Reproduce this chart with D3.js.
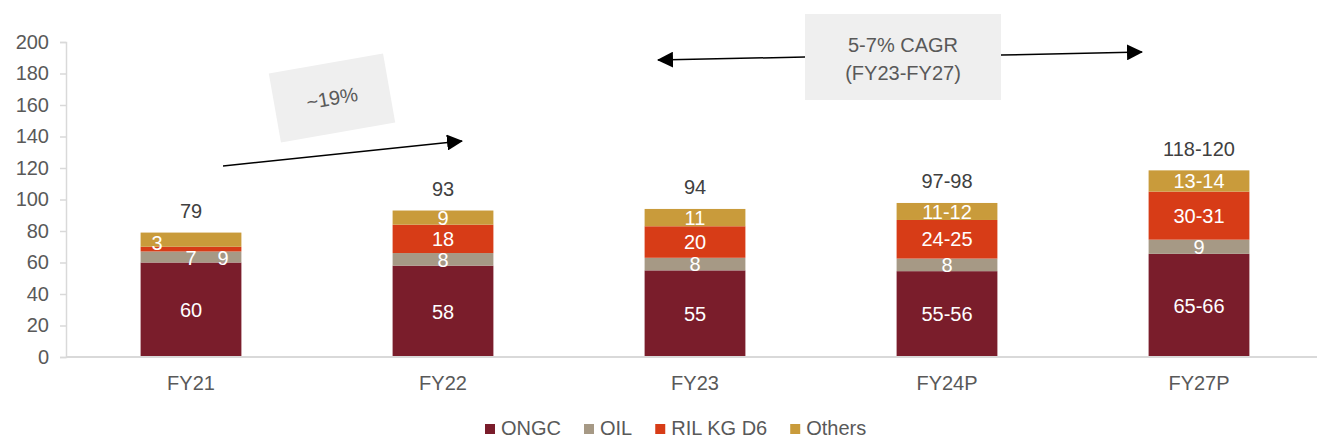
<!DOCTYPE html>
<html>
<head>
<meta charset="utf-8">
<script src="https://cdn.jsdelivr.net/npm/d3@7"></script>
<style>
  html, body { margin: 0; padding: 0; background: #fff; }
  svg { display: block; font-family: "Liberation Sans", Arial, sans-serif; }
</style>
</head>
<body>
<svg id="chart" width="1317" height="439"></svg>
<script>
// ---- data ----
const categories = ["FY21", "FY22", "FY23", "FY24P", "FY27P"];
const seriesNames = ["ONGC", "OIL", "RIL KG D6", "Others"];
const ongc   = [60, 58, 55, 54.5, 65.5];
const oil    = [7, 8, 8, 8, 9];
const rilkg  = [3, 18, 20, 24.5, 30.5];
const others = [9, 9, 11, 10.8, 13.5];
const ongcLabels   = ["60", "58", "55", "55-56", "65-66"];
const oilLabels    = ["7", "8", "8", "8", "9"];
const rilLabels    = ["3", "18", "20", "24-25", "30-31"];
const otherLabels  = ["9", "9", "11", "11-12", "13-14"];
const totalLabels  = ["79", "93", "94", "97-98", "118-120"];
const yTicks = [0, 20, 40, 60, 80, 100, 120, 140, 160, 180, 200];
const colors = ["#7a1d2b", "#a69985", "#d73c17", "#c99b3b"];

// ---- layout ----
const svg = d3.select("#chart");
const x = d3.scaleBand().domain(categories).range([65, 1325]).paddingInner(0.6).paddingOuter(0.3);
const y = d3.scaleLinear().domain([0, 200]).range([357, 42]);
const textCol = "#595959";
const fs = 20;

const rows = categories.map((c, i) => ({
  cat: c, ONGC: ongc[i], OIL: oil[i], "RIL KG D6": rilkg[i], Others: others[i]
}));
const labelSets = [ongcLabels, oilLabels, rilLabels, otherLabels];
const stack = d3.stack().keys(seriesNames)(rows);

// axes
const yAxis = svg.append("g").attr("transform", "translate(66,0)")
  .call(d3.axisLeft(y).tickValues(yTicks).tickSize(6).tickPadding(11));
yAxis.select(".domain").attr("stroke", "#d9d9d9").attr("stroke-width", 1.5);
yAxis.selectAll(".tick line").attr("stroke", "#d9d9d9").attr("stroke-width", 1.5);
yAxis.selectAll(".tick text").attr("fill", textCol).attr("font-size", fs)
  .attr("font-family", "Liberation Sans, Arial, sans-serif");

// bars
stack.forEach((layer, si) => {
  svg.append("g").selectAll("rect").data(layer).join("rect")
    .attr("x", d => x(d.data.cat))
    .attr("width", x.bandwidth())
    .attr("y", d => y(d[1]))
    .attr("height", d => y(d[0]) - y(d[1]))
    .attr("fill", colors[si]);
});

// x axis line
const xAxis = svg.append("g").attr("transform", "translate(0,357)")
  .call(d3.axisBottom(x).tickSize(0).tickPadding(19));
xAxis.select(".domain").attr("stroke", "#d9d9d9").attr("stroke-width", 2)
  .attr("d", "M66,0H1317");
xAxis.selectAll(".tick text").attr("fill", textCol).attr("font-size", fs)
  .attr("font-family", "Liberation Sans, Arial, sans-serif");

// segment labels (special offsets for the crowded FY21 bar)
const nudge = { "0-1": [0, 1], "0-2": [-34, -6], "0-3": [32, 18] };
stack.forEach((layer, si) => {
  svg.append("g").selectAll("text").data(layer).join("text")
    .attr("x", (d, i) => x(d.data.cat) + x.bandwidth() / 2 + ((nudge[i + "-" + si] || [0, 0])[0]))
    .attr("y", (d, i) => (y(d[0]) + y(d[1])) / 2 + ((nudge[i + "-" + si] || [0, 0])[1]))
    .attr("dy", "0.36em")
    .attr("text-anchor", "middle")
    .attr("fill", "#ffffff")
    .attr("font-size", fs)
    .text((d, i) => labelSets[si][i]);
});

// totals
svg.append("g").selectAll("text").data(stack[3]).join("text")
  .attr("x", d => x(d.data.cat) + x.bandwidth() / 2)
  .attr("y", d => y(d[1]) - 22)
  .attr("dy", "0.36em")
  .attr("text-anchor", "middle")
  .attr("fill", "#404040")
  .attr("font-size", fs)
  .text((d, i) => totalLabels[i]);

// arrow marker
const defs = svg.append("defs");
defs.append("marker").attr("id", "arr")
  .attr("markerUnits", "userSpaceOnUse")
  .attr("viewBox", "0 0 16 16").attr("refX", 15).attr("refY", 8)
  .attr("markerWidth", 16).attr("markerHeight", 16).attr("orient", "auto")
  .append("path").attr("d", "M0,0L16,8L0,16Z").attr("fill", "#000");

// ~19% annotation
const g1 = svg.append("g").attr("transform", "translate(332,98) rotate(-10)");
g1.append("rect").attr("x", -58).attr("y", -35).attr("width", 116).attr("height", 70).attr("fill", "#efefef");
g1.append("text").attr("text-anchor", "middle").attr("dy", "0.36em")
  .attr("fill", textCol).attr("font-size", fs).text("~19%");
svg.append("line").attr("x1", 223).attr("y1", 166).attr("x2", 462).attr("y2", 141)
  .attr("stroke", "#000").attr("stroke-width", 1.5).attr("marker-end", "url(#arr)");

// CAGR annotation
svg.append("rect").attr("x", 805).attr("y", 14).attr("width", 196).attr("height", 86).attr("fill", "#efefef");
svg.append("text").attr("x", 903).attr("y", 45).attr("dy", "0.36em").attr("text-anchor", "middle")
  .attr("fill", textCol).attr("font-size", fs).text("5-7% CAGR");
svg.append("text").attr("x", 903).attr("y", 73).attr("dy", "0.36em").attr("text-anchor", "middle")
  .attr("fill", textCol).attr("font-size", fs).text("(FY23-FY27)");
svg.append("line").attr("x1", 805).attr("y1", 57).attr("x2", 658).attr("y2", 60)
  .attr("stroke", "#000").attr("stroke-width", 1.5).attr("marker-end", "url(#arr)");
svg.append("line").attr("x1", 1001).attr("y1", 55).attr("x2", 1142).attr("y2", 52)
  .attr("stroke", "#000").attr("stroke-width", 1.5).attr("marker-end", "url(#arr)");

// legend
const leg = svg.append("g").attr("transform", "translate(485,428)");
let lx = 0;
seriesNames.forEach((n, i) => {
  const it = leg.append("g").attr("transform", `translate(${lx},0)`);
  it.append("rect").attr("x", 0).attr("y", -4).attr("width", 10).attr("height", 10).attr("fill", colors[i]);
  const t = it.append("text").attr("x", 16).attr("dy", "0.36em").attr("fill", textCol)
    .attr("font-size", fs).text(n);
  lx += 16 + t.node().getComputedTextLength() + 23;
});
</script>
</body>
</html>
